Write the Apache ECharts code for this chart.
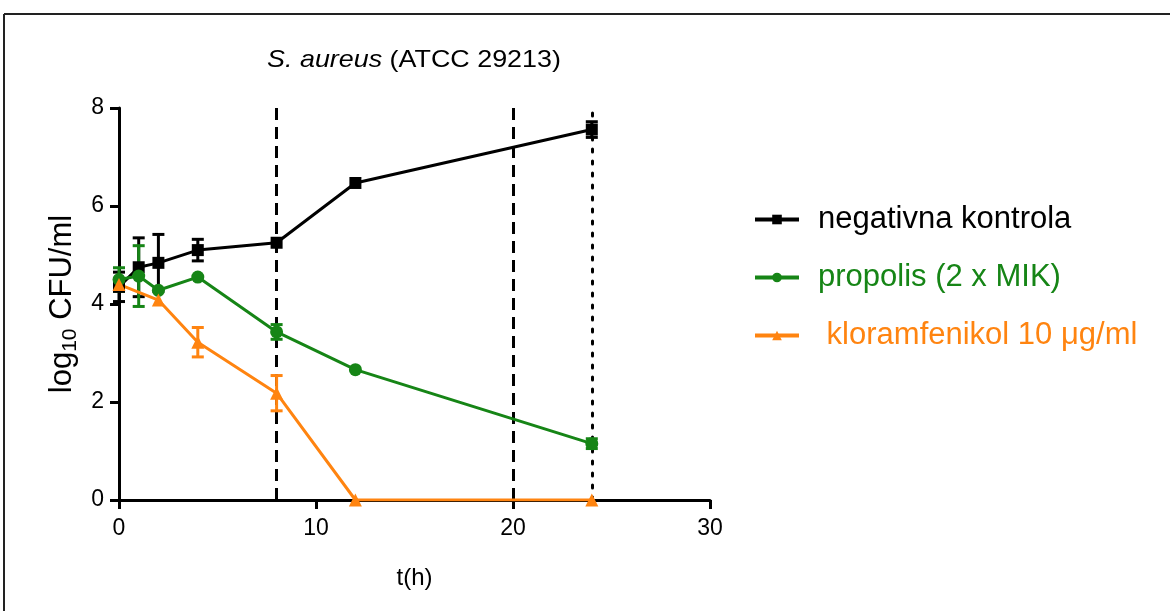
<!DOCTYPE html>
<html>
<head>
<meta charset="utf-8">
<script src="https://cdn.jsdelivr.net/npm/echarts@6/dist/echarts.min.js"></script>
<style>
html,body{margin:0;padding:0;background:#fff;}
#c{width:1170px;height:611px;}
</style>
</head>
<body>
<div id="c"></div>
<script>
const seriesNames = ['negativna kontrola', 'propolis (2 x MIK)', ' kloramfenikol 10 μg/ml'];
const hours = [0, 1, 2, 4, 8, 12, 24];
const kontrolaMean = [4.35, 4.75, 4.84, 5.1, 5.25, 6.47, 7.56];
const kontrolaErr = [0.3, 0.6, 0.58, 0.22, 0, 0, 0.16];
const propolisMean = [4.5, 4.57, 4.28, 4.55, 3.43, 2.66, 1.15];
const propolisErr = [0.24, 0.62, 0, 0, 0.15, 0, 0.1];
const kloramHours = [0, 2, 4, 8, 12, 24];
const kloramMean = [4.4, 4.08, 3.22, 2.18, 0, 0];
const kloramErr = [0, 0, 0.3, 0.36, 0, 0];
const verticalDashed = [8, 20];
const verticalDotted = [24];
const xTicks = [0, 10, 20, 30];
const yTicks = [0, 2, 4, 6, 8];

const colors = ['#000000', '#168516', '#ff8410'];
const FONT = '"Liberation Sans", Arial, sans-serif';

function pairs(xs, ys) { return xs.map((x, i) => [x, ys[i]]); }
function errData(xs, m, e) {
  const out = [];
  xs.forEach((x, i) => { if (e[i] > 0) out.push([x, m[i] - e[i], m[i] + e[i]]); });
  return out;
}
function errSeries(data, color) {
  return {
    type: 'custom',
    data: data,
    z: 3,
    silent: true,
    renderItem: function (params, api) {
      const x = api.value(0);
      const lo = api.coord([x, api.value(1)]);
      const hi = api.coord([x, api.value(2)]);
      const w = 6;
      const st = { stroke: color, lineWidth: 3 };
      return {
        type: 'group',
        children: [
          { type: 'line', shape: { x1: lo[0], y1: lo[1], x2: hi[0], y2: hi[1] }, style: st },
          { type: 'line', shape: { x1: lo[0] - w, y1: lo[1], x2: lo[0] + w, y2: lo[1] }, style: st },
          { type: 'line', shape: { x1: hi[0] - w, y1: hi[1], x2: hi[0] + w, y2: hi[1] }, style: st }
        ]
      };
    }
  };
}

const chart = echarts.init(document.getElementById('c'), null, { renderer: 'canvas' });
chart.setOption({
  animation: false,
  backgroundColor: '#fff',
  textStyle: { fontFamily: FONT },
  grid: { left: 119, right: 460, top: 108, bottom: 111 },
  graphic: [
    { type: 'line', shape: { x1: 4, y1: 14, x2: 1170, y2: 14 }, style: { stroke: '#222', lineWidth: 2 } },
    { type: 'line', shape: { x1: 4, y1: 14, x2: 4, y2: 611 }, style: { stroke: '#222', lineWidth: 2 } },
    {
      type: 'text', x: 414, y: 60, scaleX: 1.12,
      style: {
        text: '{i|S. aureus} (ATCC 29213)',
        fontFamily: FONT, fontSize: 24, fill: '#000',
        align: 'center', verticalAlign: 'middle',
        rich: { i: { fontStyle: 'italic', fontSize: 24, fontFamily: FONT } }
      }
    }
  ],
  legend: {
    orient: 'vertical',
    left: 748,
    top: 199,
    itemWidth: 44,
    itemHeight: 12,
    itemGap: 27,
    lineStyle: { width: 4 },
    data: seriesNames.map((n, i) => ({ name: n, textStyle: { color: colors[i] } })),
    textStyle: { fontSize: 31, fontFamily: FONT, padding: [0, 0, 0, 14] }
  },
  xAxis: {
    type: 'value', min: 0, max: 30, interval: 10,
    name: 't(h)', nameLocation: 'middle', nameGap: 66,
    nameTextStyle: { fontSize: 24, color: '#000', fontFamily: FONT },
    axisLine: { show: true, onZero: false, lineStyle: { color: '#000', width: 3 } },
    axisTick: { show: true, length: 9, lineStyle: { color: '#000', width: 3 } },
    axisLabel: { fontSize: 23, color: '#000', margin: 17, fontFamily: FONT,
      formatter: v => xTicks.includes(v) ? String(v) : '' },
    splitLine: { show: false }
  },
  yAxis: {
    type: 'value', min: 0, max: 8, interval: 2,
    name: '{a|log}{s|10}{a| CFU/ml}', nameLocation: 'middle', nameGap: 36, nameRotate: 90,
    nameTextStyle: {
      fontSize: 31, color: '#000', fontFamily: FONT,
      rich: {
        a: { fontSize: 31, fontFamily: FONT, color: '#000', lineHeight: 36 },
        s: { fontSize: 21, fontFamily: FONT, color: '#000', verticalAlign: 'bottom', lineHeight: 26, padding: [12, 0, 0, 0] }
      }
    },
    axisLine: { show: true, onZero: false, lineStyle: { color: '#000', width: 3 } },
    axisTick: { show: true, length: 9, lineStyle: { color: '#000', width: 3 } },
    axisLabel: { fontSize: 23, color: '#000', margin: 15, fontFamily: FONT,
      formatter: v => yTicks.includes(v) ? String(v) : '' },
    splitLine: { show: false }
  },
  series: [
    {
      name: seriesNames[0], type: 'line', data: pairs(hours, kontrolaMean),
      color: colors[0], symbol: 'rect', symbolSize: 12, z: 4,
      lineStyle: { width: 3, color: colors[0] }, itemStyle: { color: colors[0] },
      markLine: {
        silent: true, symbol: 'none', label: { show: false }, z: 2,
        data: verticalDashed.map(v => ({ xAxis: v, lineStyle: { type: [12, 7], width: 3, color: '#000' } }))
          .concat(verticalDotted.map(v => ({ xAxis: v, lineStyle: { type: [3, 9], width: 3, color: '#000', cap: 'round' } })))
      }
    },
    {
      name: seriesNames[1], type: 'line', data: pairs(hours, propolisMean),
      color: colors[1], symbol: 'circle', symbolSize: 13, z: 4,
      lineStyle: { width: 3, color: colors[1] }, itemStyle: { color: colors[1] }
    },
    {
      name: seriesNames[2], type: 'line', data: pairs(kloramHours, kloramMean),
      color: colors[2], symbol: 'triangle', symbolSize: 13, z: 4,
      lineStyle: { width: 3, color: colors[2] }, itemStyle: { color: colors[2] }
    },
    errSeries(errData(hours, kontrolaMean, kontrolaErr), colors[0]),
    errSeries(errData(hours, propolisMean, propolisErr), colors[1]),
    errSeries(errData(kloramHours, kloramMean, kloramErr), colors[2])
  ]
});
</script>
</body>
</html>
